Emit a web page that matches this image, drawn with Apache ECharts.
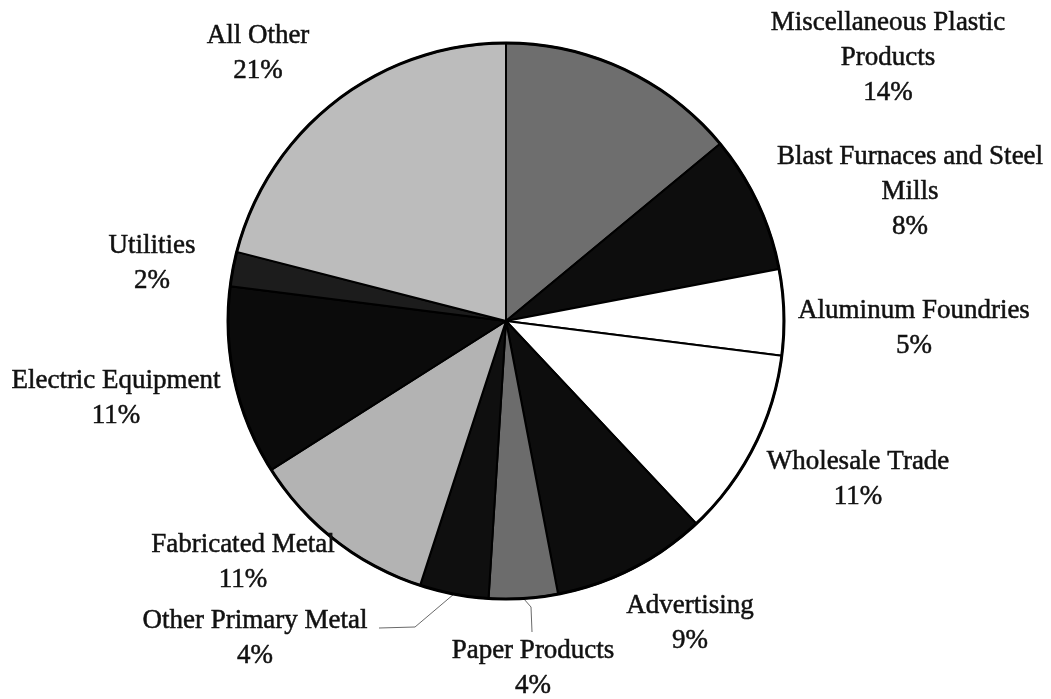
<!DOCTYPE html>
<html>
<head>
<meta charset="utf-8">
<title>Industry shares</title>
<script src="https://cdn.jsdelivr.net/npm/echarts@6/dist/echarts.min.js"></script>
<style>
  html, body { margin: 0; padding: 0; background: #ffffff; }
  #chart { width: 1051px; height: 699px; }
</style>
</head>
<body>
<div id="chart"></div>
<script>
// Slices, clockwise from twelve o'clock
const categories = [
  'Miscellaneous Plastic\nProducts',
  'Blast Furnaces and Steel\nMills',
  'Aluminum Foundries',
  'Wholesale Trade',
  'Advertising',
  'Paper Products',
  'Other Primary Metal',
  'Fabricated Metal',
  'Electric Equipment',
  'Utilities',
  'All Other'
];
const shares = [14, 8, 5, 11, 9, 4, 4, 11, 11, 2, 21];

// Greyscale fills for each slice
const sliceColors = [
  '#6e6e6e', '#0d0d0d', '#ffffff', '#ffffff', '#0d0d0d', '#6c6c6c',
  '#0f0f0f', '#b3b3b3', '#0b0b0b', '#1c1c1c', '#bcbcbc'
];

// Where each label block sits (centre x, centre y)
const labelSpots = [
  [888, 58], [910, 192], [914, 328], [858, 479], [690, 623], [533, 668],
  [255, 638], [243, 562], [116, 398], [152, 263], [258, 53]
];

// Elbows of the two leader lines (from slice edge to label)
const leaderBends = {
  5: [[531, 607], [532, 632]],
  6: [[415, 627], [379, 628]]
};

const PIE_CENTER = [506, 321];
const PIE_RADIUS = 278;

const chart = echarts.init(document.getElementById('chart'), null, { renderer: 'canvas' });

chart.setOption({
  backgroundColor: '#ffffff',
  animation: false,
  series: [{
    type: 'pie',
    center: PIE_CENTER,
    radius: PIE_RADIUS,
    startAngle: 90,
    clockwise: true,
    avoidLabelOverlap: false,
    itemStyle: { borderColor: '#000000', borderWidth: 2 },
    label: {
      show: true,
      position: 'outside',
      formatter: p => p.name + '\n' + p.value + '%',
      fontFamily: 'Liberation Serif',
      fontSize: 27,
      lineHeight: 35,
      color: '#111111',
      textBorderColor: '#111111',
      textBorderWidth: 0.5,
      align: 'center'
    },
    labelLine: {
      show: true,
      length: 10,
      length2: 10,
      smooth: false,
      lineStyle: { color: '#6a6a6a', width: 1 }
    },
    labelLayout: function (params) {
      const i = params.dataIndex;
      const spot = labelSpots[i];
      const out = { x: spot[0], y: spot[1], align: 'center', verticalAlign: 'middle' };
      if (leaderBends[i] && params.labelLinePoints) {
        out.labelLinePoints = [params.labelLinePoints[0]].concat(leaderBends[i]);
      }
      return out;
    },
    emphasis: { disabled: true },
    data: categories.map((name, i) => ({
      name: name,
      value: shares[i],
      itemStyle: { color: sliceColors[i] },
      labelLine: { show: !!leaderBends[i] }
    }))
  }, {
    // heavier outline round the whole pie
    type: 'pie',
    center: PIE_CENTER,
    radius: [PIE_RADIUS - 1.5, PIE_RADIUS + 1.5],
    silent: true,
    label: { show: false },
    labelLine: { show: false },
    itemStyle: { color: '#000000', borderWidth: 0 },
    emphasis: { disabled: true },
    data: [{ value: 1, name: 'outline' }]
  }]
});
</script>
</body>
</html>
